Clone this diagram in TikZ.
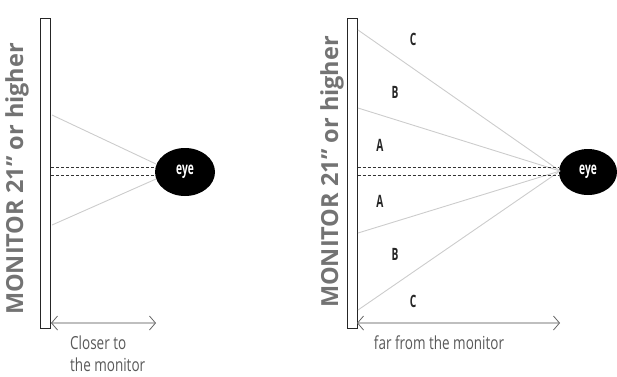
\documentclass[tikz,border=0pt]{standalone}
\usepackage{fontspec}
\setmainfont{Open Sans}
\usetikzlibrary{arrows.meta,shapes.geometric}
\begin{document}
\begin{tikzpicture}[x=1pt,y=-1pt,
  monitor/.style={draw=black!85,line width=1pt,fill=white,minimum width=10pt,minimum height=310pt,inner sep=0pt},
  montext/.style={rotate=90,text=black!55,font=\bfseries\fontsize{23.5}{23.5}\selectfont,inner sep=0pt},
  eyenode/.style={ellipse,fill=black,text=white,minimum width=60pt,minimum height=48pt,inner sep=0pt,font=\bfseries\fontsize{17}{17}\selectfont\addfontfeatures{FakeStretch=0.6}},
  gaze/.style={black!20,line width=0.9pt},
  axis/.style={black!80,densely dashed,line width=0.7pt},
  span/.style={black!25,line width=2.2pt,{Straight Barb[length=6pt,width=14pt,line width=0.8pt,color=black!60]}-{Straight Barb[length=6pt,width=14pt,line width=0.8pt,color=black!60]}},
  lbl/.style={text=black!65,font=\fontsize{18}{22}\selectfont\addfontfeatures{FakeStretch=0.75},align=left,inner sep=0pt},
  zone/.style={text=black!85,font=\bfseries\fontsize{17}{17}\selectfont\addfontfeatures{FakeStretch=0.6},inner sep=0pt}]
\useasboundingbox (0,0) rectangle (617,376);
% ---------- left: close to the monitor ----------
\node[monitor] (monL) at (45.5,173) {};
\node[montext] (txtL) at (17,179) {MONITOR 21" or higher};
\node[eyenode] (eyeL) at (185,172) {eye};
\coordinate (lt) at (52,115);
\coordinate (lb) at (52,225);
\draw[gaze] (lt) -- (156,164);
\draw[gaze] (lb) -- (156,179);
\draw[axis] (monL.east |- 0,167) -- (eyeL.west |- 0,167);
\draw[axis] (monL.east |- 0,175) -- (eyeL.west |- 0,175);
\coordinate (arL1) at (51,323);
\coordinate (arL2) at (156,323);
\draw[span] (arL1) -- (arL2);
\node[lbl,anchor=north west] (capL) at (70,336) {Closer to\\the monitor};
% ---------- right: far from the monitor ----------
\node[monitor] (monR) at (352,173) {};
\node[montext] (txtR) at (332,172) {MONITOR 21" or higher};
\node[eyenode,minimum width=58pt,minimum height=46pt] (eyeR) at (588,172) {eye};
\coordinate (conv) at (560,171);
\foreach \y in {30,108,233,310}{
  \draw[gaze] (358,\y) -- (conv);
}
\draw[axis] (monR.east |- 0,167) -- (eyeR.west |- 0,167);
\draw[axis] (monR.east |- 0,175) -- (eyeR.west |- 0,175);
\node[zone] (c1) at (413,39) {C};
\node[zone] (b1) at (395,92) {B};
\node[zone] (a1) at (380,145) {A};
\node[zone] (a2) at (380,201) {A};
\node[zone] (b2) at (395,254) {B};
\node[zone] (c2) at (413,301) {C};
\coordinate (arR1) at (357,323);
\coordinate (arR2) at (560,323);
\draw[span] (arR1) -- (arR2);
\node[lbl,anchor=north] (capR) at (439,336) {far from the monitor};
\end{tikzpicture}
\end{document}
